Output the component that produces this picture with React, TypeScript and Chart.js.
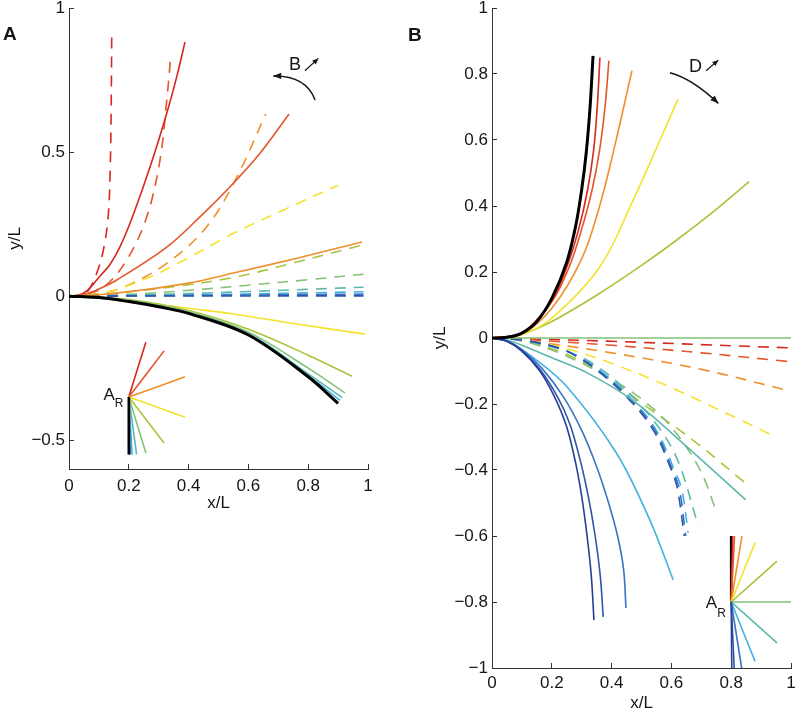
import React, { useEffect, useRef } from 'react';
import { Chart, registerables } from 'chart.js';
Chart.register(...registerables);

type P = [number, number];

// ---------- tick labels ----------
const aXTicks = [0, 0.2, 0.4, 0.6, 0.8, 1];
const aYTicks = [-0.5, 0, 0.5, 1];
const bXTicks = [0, 0.2, 0.4, 0.6, 0.8, 1];
const bYTicks = [-1, -0.8, -0.6, -0.4, -0.2, 0, 0.2, 0.4, 0.6, 0.8, 1];

// ---------- colours ----------
const C = {
  red: '#d9261f',
  redOrange: '#e4562b',
  orange: '#ef902c',
  yellow: '#f5e22c',
  yellowGreen: '#a9c43c',
  green: '#84c176',
  teal: '#5db7ae',
  lightBlue: '#41b3e0',
  blue: '#3b72c2',
  darkBlue: '#2f55a8',
  navy: '#253f96',
  black: '#000000',
};

// ---------- Panel A : solid curves ----------
const aSolidRed: P[] = [[0, 0], [0.03, 0.003], [0.06, 0.018], [0.104, 0.07], [0.137, 0.11], [0.17, 0.17], [0.214, 0.28], [0.271, 0.448], [0.327, 0.635], [0.36, 0.76], [0.388, 0.882]];
const aSolidRedOrange: P[] = [[0, 0], [0.05, 0.006], [0.1, 0.025], [0.16, 0.056], [0.327, 0.17], [0.438, 0.275], [0.538, 0.379], [0.639, 0.496], [0.736, 0.632]];
const aSolidOrange: P[] = [[0, 0], [0.1, 0.005], [0.237, 0.02], [0.4, 0.045], [0.55, 0.08], [0.773, 0.134], [0.98, 0.188]];
const aSolidYellow: P[] = [[0, 0], [0.1, -0.003], [0.214, -0.018], [0.4, -0.042], [0.55, -0.062], [0.75, -0.095], [0.99, -0.132]];
const aSolidYellowGreen: P[] = [[0, 0], [0.2, -0.012], [0.4, -0.05], [0.6, -0.115], [0.8, -0.205], [0.947, -0.278]];
const aSolidGreen: P[] = [[0, 0], [0.2, -0.015], [0.4, -0.055], [0.6, -0.125], [0.8, -0.25], [0.923, -0.336]];
const aSolidTeal: P[] = [[0, 0], [0.2, -0.017], [0.4, -0.057], [0.6, -0.13], [0.8, -0.27], [0.913, -0.352]];
const aSolidLightBlue: P[] = [[0, 0], [0.2, -0.018], [0.4, -0.059], [0.6, -0.133], [0.8, -0.276], [0.907, -0.362]];
const aSolidBlack: P[] = [[0, 0], [0.1, -0.005], [0.2, -0.019], [0.3, -0.037], [0.4, -0.06], [0.6, -0.135], [0.8, -0.28], [0.9, -0.372]];

// ---------- Panel A : dashed curves ----------
const aDashRed: P[] = [[0, 0], [0.04, 0.005], [0.065, 0.02], [0.093, 0.08], [0.115, 0.16], [0.131, 0.275], [0.138, 0.45], [0.141, 0.65], [0.143, 0.913]];
const aDashRedOrange: P[] = [[0, 0], [0.05, 0.005], [0.115, 0.03], [0.193, 0.125], [0.26, 0.275], [0.304, 0.47], [0.327, 0.68], [0.34, 0.83]];
const aDashOrange: P[] = [[0, 0], [0.08, 0.006], [0.18, 0.03], [0.327, 0.114], [0.46, 0.24], [0.56, 0.41], [0.658, 0.632]];
const aDashYellow: P[] = [[0, 0], [0.12, 0.012], [0.27, 0.066], [0.394, 0.13], [0.55, 0.218], [0.72, 0.3], [0.9, 0.385]];
const aDashYellowGreen: P[] = [[0, 0], [0.15, 0.01], [0.35, 0.033], [0.55, 0.065], [0.75, 0.115], [0.98, 0.177]];
const aDashGreen: P[] = [[0, 0], [0.2, 0.006], [0.4, 0.02], [0.6, 0.038], [0.8, 0.057], [0.985, 0.076]];
const aDashTeal: P[] = [[0, 0], [0.3, 0.006], [0.6, 0.016], [0.985, 0.031]];
const aDashLightBlue: P[] = [[0, 0], [0.5, 0.006], [0.985, 0.015]];
const aDashBlue: P[] = [[0, 0], [0.5, 0.003], [0.985, 0.007]];
const aDashDarkBlue: P[] = [[0, 0], [0.985, 0.001]];

// ---------- Panel A : inset (A_R) ----------
const aInsetCenter: P = [0.2, -0.35];
const aInsetEnds: P[] = [[0.257, -0.16], [0.318, -0.19], [0.388, -0.28], [0.388, -0.42], [0.318, -0.51], [0.257, -0.544], [0.226, -0.549], [0.211, -0.55], [0.205, -0.55], [0.2, -0.55]];
const aInsetColors = [C.red, C.redOrange, C.orange, C.yellow, C.yellowGreen, C.green, C.teal, C.lightBlue, C.blue, C.black];

// ---------- Panel B : solid curves ----------
const bSolidBlack: P[] = [[0, 0], [0.05, 0.002], [0.1, 0.015], [0.15, 0.05], [0.2, 0.12], [0.25, 0.23], [0.28, 0.34], [0.3, 0.45], [0.315, 0.56], [0.328, 0.7], [0.338, 0.855]];
const bSolidRed: P[] = [[0, 0], [0.1, 0.015], [0.2, 0.115], [0.25, 0.215], [0.29, 0.33], [0.32, 0.45], [0.34, 0.57], [0.352, 0.7], [0.361, 0.85]];
const bSolidRedOrange: P[] = [[0, 0], [0.1, 0.014], [0.2, 0.11], [0.26, 0.22], [0.3, 0.33], [0.335, 0.45], [0.36, 0.57], [0.378, 0.7], [0.391, 0.84]];
const bSolidOrange: P[] = [[0, 0], [0.1, 0.012], [0.2, 0.09], [0.3, 0.24], [0.36, 0.4], [0.41, 0.58], [0.468, 0.81]];
const bSolidYellow: P[] = [[0, 0], [0.1, 0.01], [0.2, 0.06], [0.361, 0.216], [0.472, 0.418], [0.562, 0.6], [0.622, 0.724]];
const bSolidYellowGreen: P[] = [[0, 0], [0.1, 0.012], [0.2, 0.05], [0.361, 0.136], [0.5, 0.22], [0.618, 0.297], [0.75, 0.39], [0.86, 0.474]];
const bSolidGreen: P[] = [[0, 0], [1, 0]];
const bSolidTeal: P[] = [[0, 0], [0.05, -0.006], [0.1, -0.022], [0.2, -0.06], [0.317, -0.105], [0.472, -0.19], [0.651, -0.329], [0.848, -0.49]];
const bSolidLightBlue: P[] = [[0, 0], [0.05, -0.008], [0.139, -0.06], [0.25, -0.147], [0.417, -0.35], [0.528, -0.552], [0.606, -0.733]];
const bSolidBlue: P[] = [[0, 0], [0.05, -0.009], [0.1, -0.035], [0.17, -0.095], [0.24, -0.18], [0.3, -0.28], [0.35, -0.39], [0.39, -0.5], [0.42, -0.6], [0.44, -0.7], [0.448, -0.818]];
const bSolidDarkBlue: P[] = [[0, 0], [0.05, -0.01], [0.1, -0.038], [0.16, -0.095], [0.22, -0.18], [0.26, -0.26], [0.295, -0.37], [0.322, -0.48], [0.345, -0.6], [0.362, -0.72], [0.372, -0.845]];
const bSolidNavy: P[] = [[0, 0], [0.05, -0.01], [0.1, -0.04], [0.16, -0.1], [0.21, -0.18], [0.25, -0.27], [0.28, -0.38], [0.3, -0.48], [0.318, -0.6], [0.332, -0.72], [0.341, -0.855]];

// ---------- Panel B : dashed curves ----------
const bDashRed: P[] = [[0, 0], [0.1, -0.002], [0.4, -0.01], [0.7, -0.02], [1.0, -0.03]];
const bDashRedOrange: P[] = [[0, 0], [0.1, -0.004], [0.4, -0.022], [0.7, -0.045], [1.0, -0.072]];
const bDashOrange: P[] = [[0, 0], [0.1, -0.006], [0.4, -0.045], [0.7, -0.095], [0.986, -0.158]];
const bDashYellow: P[] = [[0, 0], [0.1, -0.006], [0.283, -0.041], [0.54, -0.127], [0.807, -0.238], [0.935, -0.294]];
const bDashYellowGreen: P[] = [[0, 0], [0.1, -0.008], [0.25, -0.05], [0.383, -0.117], [0.517, -0.208], [0.673, -0.31], [0.848, -0.44]];
const bDashGreen: P[] = [[0, 0], [0.1, -0.008], [0.25, -0.055], [0.4, -0.125], [0.5, -0.185], [0.6, -0.27], [0.696, -0.4], [0.752, -0.53]];
const bDashTeal: P[] = [[0, 0], [0.1, -0.007], [0.25, -0.04], [0.35, -0.085], [0.45, -0.16], [0.556, -0.269], [0.623, -0.375], [0.69, -0.57]];
const bDashLightBlue: P[] = [[0, 0], [0.1, -0.006], [0.23, -0.032], [0.3, -0.062], [0.36, -0.097], [0.46, -0.178], [0.55, -0.28], [0.61, -0.4], [0.635, -0.46], [0.656, -0.59]];
const bDashBlue: P[] = [[0, 0], [0.1, -0.006], [0.228, -0.032], [0.296, -0.062], [0.354, -0.097], [0.455, -0.178], [0.545, -0.28], [0.604, -0.4], [0.627, -0.46], [0.648, -0.6]];
const bDashDarkBlue: P[] = [[0, 0], [0.1, -0.006], [0.227, -0.031], [0.294, -0.062], [0.35, -0.097], [0.45, -0.178], [0.54, -0.28], [0.599, -0.398], [0.62, -0.456], [0.643, -0.6]];

// ---------- Panel B : inset (A_R) ----------
const bInsetCenter: P = [0.8, -0.8];
const bInsetEnds: P[] = [[0.8, -0.6], [0.805, -0.6], [0.811, -0.6], [0.836, -0.6], [0.88, -0.62], [0.953, -0.676], [1.0, -0.8], [0.953, -0.924], [0.88, -0.98], [0.835, -1.0], [0.81, -1.0], [0.802, -1.0]];
const bInsetColors = [C.black, C.red, C.redOrange, C.orange, C.yellow, C.yellowGreen, C.green, C.teal, C.lightBlue, C.blue, C.darkBlue, C.navy];

// ---------- styling ----------
const FONT = '"Liberation Sans", Arial, Helvetica, sans-serif';
const AX = '#333333';
const TXT = '#161616';
const DASH = [11, 8];
const FS = 17;

const fmt = (v: number) => {
  const r = Math.round(v * 10) / 10;
  return r < 0 ? '\u2212' + String(-r) : String(r);
};

function ds(data: P[], color: string, dashed: boolean, width = 1.6) {
  return {
    data: data.map(([x, y]) => ({ x, y })),
    borderColor: color,
    backgroundColor: color,
    borderWidth: width,
    borderDash: dashed ? DASH : [],
    pointRadius: 0,
    fill: false,
    tension: 0.35,
  };
}

function scales(xTicks: number[], yTicks: number[], yMin: number, yMax: number, yWidth: number, xHeight: number, xPad: number, yTitlePad: number) {
  const font = { family: FONT, size: FS, lineHeight: 1 };
  const zeroPad = (s: any) => { s.paddingTop = 0; s.paddingBottom = 0; s.paddingLeft = 0; s.paddingRight = 0; };
  return {
    x: {
      type: 'linear' as const,
      min: 0,
      max: 1,
      afterBuildTicks: (s: any) => { s.ticks = xTicks.map((value) => ({ value })); },
      afterFit: (s: any) => { s.height = xHeight; zeroPad(s); },
      border: { display: true, color: AX, width: 1 },
      grid: { drawOnChartArea: false, drawTicks: true, tickLength: -5, color: AX, lineWidth: 1 },
      ticks: { padding: xPad, color: TXT, font, maxRotation: 0, autoSkip: false, callback: (v: any) => fmt(Number(v)) },
      title: { display: true, text: 'x/L', color: TXT, font, padding: { top: 0, bottom: 0 } },
    },
    y: {
      type: 'linear' as const,
      min: yMin,
      max: yMax,
      afterBuildTicks: (s: any) => { s.ticks = yTicks.map((value) => ({ value })); },
      afterFit: (s: any) => { s.width = yWidth; zeroPad(s); },
      border: { display: true, color: AX, width: 1 },
      grid: { drawOnChartArea: false, drawTicks: true, tickLength: -5, color: AX, lineWidth: 1 },
      ticks: { padding: 9, color: TXT, font, autoSkip: false, callback: (v: any) => fmt(Number(v)) },
      title: { display: true, text: 'y/L', color: TXT, font, padding: { top: yTitlePad, bottom: 0 } },
    },
  };
}

function arrowHead(ctx: CanvasRenderingContext2D, x: number, y: number, ang: number, len: number, half: number) {
  const c = Math.cos(ang), s = Math.sin(ang);
  ctx.beginPath();
  ctx.moveTo(x, y);
  ctx.lineTo(x - len * c + half * s, y - len * s - half * c);
  ctx.lineTo(x - len * c - half * s, y - len * s + half * c);
  ctx.closePath();
  ctx.fill();
}

type AnnCfg = {
  letter: string;
  letterPos: [number, number];
  sym: string;
  symAt: P;
  small: [P, P];
  curve: [P, P, P];
  inset: P;
  arDy: [number, number];
};

function annotPlugin(id: string, cfg: AnnCfg) {
  return {
    id,
    afterDatasetsDraw(chart: any) {
      const ctx: CanvasRenderingContext2D = chart.ctx;
      const xs = chart.scales.x, ys = chart.scales.y;
      const px = (p: P): [number, number] => [xs.getPixelForValue(p[0]), ys.getPixelForValue(p[1])];
      ctx.save();
      ctx.fillStyle = TXT;
      ctx.strokeStyle = TXT;
      // panel letter
      ctx.font = `bold 19px ${FONT}`;
      ctx.textAlign = 'left';
      ctx.textBaseline = 'alphabetic';
      ctx.fillText(cfg.letter, cfg.letterPos[0], cfg.letterPos[1]);
      // symbol + small arrow
      const [sx, sy] = px(cfg.symAt);
      ctx.font = `18px ${FONT}`;
      ctx.textAlign = 'center';
      ctx.textBaseline = 'middle';
      ctx.fillText(cfg.sym, sx, sy);
      const [a0x, a0y] = px(cfg.small[0]);
      const [a1x, a1y] = px(cfg.small[1]);
      ctx.lineWidth = 1.2;
      ctx.beginPath();
      ctx.moveTo(a0x, a0y);
      ctx.lineTo(a1x, a1y);
      ctx.stroke();
      arrowHead(ctx, a1x, a1y, Math.atan2(a1y - a0y, a1x - a0x), 6, 2.6);
      // curved arrow
      const [c0x, c0y] = px(cfg.curve[0]);
      const [c1x, c1y] = px(cfg.curve[1]);
      const [c2x, c2y] = px(cfg.curve[2]);
      ctx.lineWidth = 1.5;
      ctx.beginPath();
      ctx.moveTo(c0x, c0y);
      ctx.quadraticCurveTo(c1x, c1y, c2x, c2y);
      ctx.stroke();
      arrowHead(ctx, c2x, c2y, Math.atan2(c2y - c1y, c2x - c1x), 8, 3.2);
      // A_R label
      const [ix, iy] = px(cfg.inset);
      ctx.textBaseline = 'alphabetic';
      ctx.textAlign = 'right';
      ctx.font = `17px ${FONT}`;
      ctx.fillText('A', ix - 14, iy + cfg.arDy[0]);
      ctx.textAlign = 'left';
      ctx.font = `12px ${FONT}`;
      ctx.fillText('R', ix - 14, iy + cfg.arDy[1]);
      ctx.restore();
    },
  };
}

function buildA() {
  const layers: any[] = [
    ds(aDashRed, C.red, true),
    ds(aDashRedOrange, C.redOrange, true),
    ds(aDashOrange, C.orange, true),
    ds(aDashYellow, C.yellow, true),
    ds(aDashYellowGreen, C.yellowGreen, true),
    ds(aDashGreen, C.green, true),
    ds(aDashTeal, C.teal, true),
    ds(aDashLightBlue, C.lightBlue, true),
    ds(aDashBlue, C.blue, true),
    ds(aDashDarkBlue, C.darkBlue, true),
    ds(aSolidRed, C.red, false),
    ds(aSolidRedOrange, C.redOrange, false),
    ds(aSolidOrange, C.orange, false),
    ds(aSolidYellow, C.yellow, false),
    ds(aSolidYellowGreen, C.yellowGreen, false),
    ds(aSolidGreen, C.green, false),
    ds(aSolidTeal, C.teal, false),
    ds(aSolidLightBlue, C.lightBlue, false),
    ds(aSolidBlack, C.black, false, 3),
    ...aInsetEnds.map((e, i) => ds([aInsetCenter, e], aInsetColors[i], false, aInsetColors[i] === C.black ? 2.6 : 1.6)),
  ];
  return layers.reverse();
}

function buildB() {
  const layers: any[] = [
    ds(bDashRed, C.red, true),
    ds(bDashRedOrange, C.redOrange, true),
    ds(bDashOrange, C.orange, true),
    ds(bDashYellow, C.yellow, true),
    ds(bDashYellowGreen, C.yellowGreen, true),
    ds(bDashGreen, C.green, true),
    ds(bDashTeal, C.teal, true),
    ds(bDashLightBlue, C.lightBlue, true),
    ds(bDashBlue, C.blue, true),
    ds(bDashDarkBlue, C.darkBlue, true),
    ds(bSolidGreen, C.green, false),
    ds(bSolidYellowGreen, C.yellowGreen, false),
    ds(bSolidYellow, C.yellow, false),
    ds(bSolidOrange, C.orange, false),
    ds(bSolidRedOrange, C.redOrange, false),
    ds(bSolidRed, C.red, false),
    ds(bSolidTeal, C.teal, false),
    ds(bSolidLightBlue, C.lightBlue, false),
    ds(bSolidBlue, C.blue, false),
    ds(bSolidDarkBlue, C.darkBlue, false),
    ds(bSolidNavy, C.navy, false),
    ds(bSolidBlack, C.black, false, 3),
    ...bInsetEnds.map((e, i) => ds([bInsetCenter, e], bInsetColors[i], false, bInsetColors[i] === C.black ? 2.6 : 1.6)),
  ];
  return layers.reverse();
}

const commonOpts = {
  responsive: false,
  animation: false as const,
  events: [] as any[],
  plugins: { legend: { display: false }, tooltip: { enabled: false } },
};

export default function App() {
  const refA = useRef<HTMLCanvasElement>(null);
  const refB = useRef<HTMLCanvasElement>(null);

  useEffect(() => {
    const chartA = new Chart(refA.current as HTMLCanvasElement, {
      type: 'line',
      data: { datasets: buildA() },
      options: {
        ...commonOpts,
        layout: { padding: { top: 8, right: 12, left: 0, bottom: 0 } },
        scales: scales(aXTicks, aYTicks, -0.6, 1, 69, 43, 13.5, 6.5) as any,
      } as any,
      plugins: [annotPlugin('annotA', {
        letter: 'A', letterPos: [3, 40], sym: 'B', symAt: [0.756, 0.802],
        small: [[0.789, 0.782], [0.834, 0.825]],
        curve: [[0.823, 0.681], [0.792, 0.766], [0.683, 0.764]],
        inset: aInsetCenter, arDy: [3, 10],
      })],
    });
    const chartB = new Chart(refB.current as HTMLCanvasElement, {
      type: 'line',
      data: { datasets: buildB() },
      options: {
        ...commonOpts,
        layout: { padding: { top: 8, right: 5, left: 0, bottom: 0 } },
        scales: scales(bXTicks, bYTicks, -1, 1, 92, 44, 11.5, 31.5) as any,
      } as any,
      plugins: [annotPlugin('annotB', {
        letter: 'B', letterPos: [8, 41], sym: 'D', symAt: [0.681, 0.821],
        small: [[0.716, 0.81], [0.757, 0.842]],
        curve: [[0.595, 0.804], [0.67, 0.786], [0.757, 0.711]],
        inset: bInsetCenter, arDy: [6, 15],
      })],
    });
    return () => { chartA.destroy(); chartB.destroy(); };
  }, []);

  return (
    <div style={{ position: 'absolute', left: 0, top: 0, width: 796, height: 712, background: '#ffffff', overflow: 'hidden' }}>
      <canvas ref={refA} width={380} height={512} style={{ position: 'absolute', left: 0, top: 0, width: 380, height: 512 }} />
      <canvas ref={refB} width={396} height={712} style={{ position: 'absolute', left: 400, top: 0, width: 396, height: 712 }} />
    </div>
  );
}
